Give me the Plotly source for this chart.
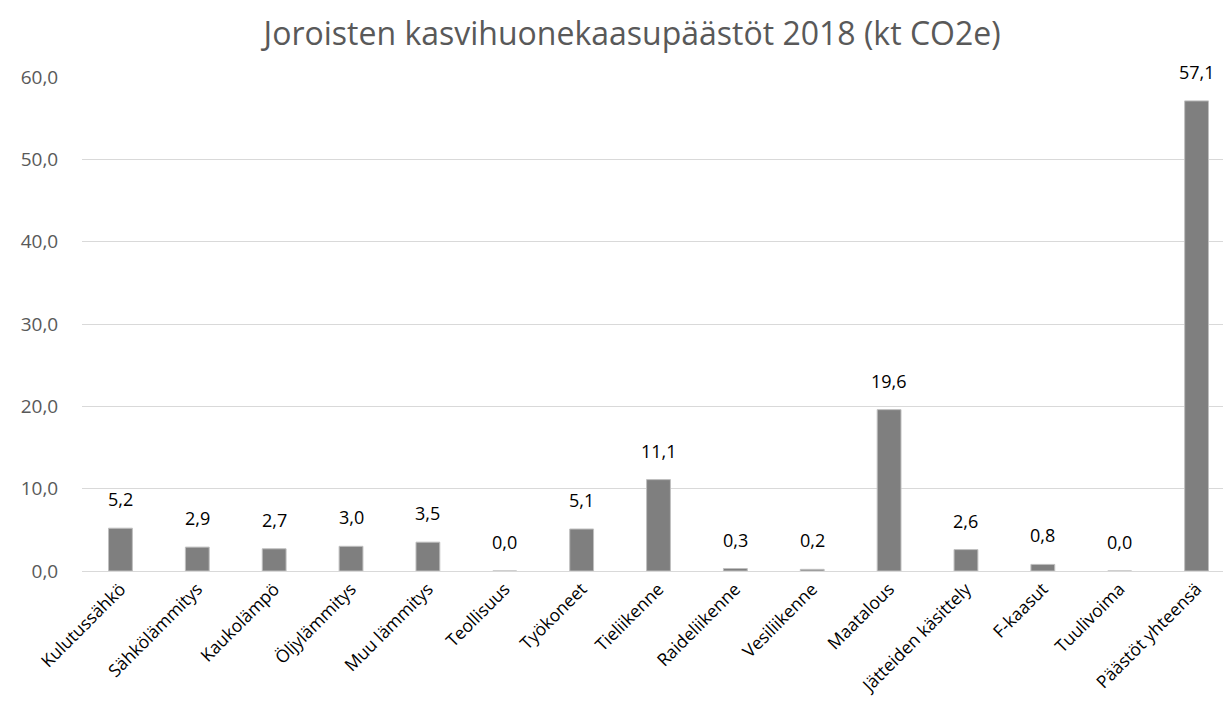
import plotly.graph_objects as go

# categories and values (kt CO2e)
categories = ['Kulutussähkö', 'Sähkölämmitys', 'Kaukolämpö', 'Öljylämmitys', 'Muu lämmitys',
              'Teollisuus', 'Työkoneet', 'Tieliikenne', 'Raideliikenne', 'Vesiliikenne',
              'Maatalous', 'Jätteiden käsittely', 'F-kaasut', 'Tuulivoima', 'Päästöt yhteensä']
values = [5.2, 2.9, 2.7, 3.0, 3.5, 0.0, 5.1, 11.1, 0.3, 0.2, 19.6, 2.6, 0.8, 0.0, 57.1]
y_ticks = [0, 10, 20, 30, 40, 50, 60]

fig = go.Figure()

fig.add_trace(
    go.Bar(x=categories,
           y=values,
           marker_color='#7f7f7f',
           marker_line_color='#bfbfbf',
           marker_line_width=1,
           showlegend=False))

# data labels above bars
for cat, val in zip(categories, values):
    fig.add_annotation(x=cat, y=val, text=f'{val:.1f}'.replace('.', ','),
                       showarrow=False, yanchor='bottom', yshift=15,
                       font=dict(size=18, color='#000000'))

# page body has an 8px margin, so margins are offset by that
fig.update_layout(
    title=dict(text='Joroisten kasvihuonekaasupäästöt 2018 (kt CO2e)',
               x=0.507, xanchor='center', y=0.965, yanchor='middle',
               font=dict(size=32, color='#595959')),
    font=dict(family='Open Sans, Noto Sans, sans-serif', color='#595959'),
    separators=', ',
    plot_bgcolor='white',
    paper_bgcolor='white',
    bargap=0.69,
    width=1231, height=725,
    margin=dict(l=74, r=4, t=69, b=162),
    xaxis=dict(tickangle=-45, tickfont=dict(size=17.5, color='#000000'),
               showline=True, linecolor='#d9d9d9', ticks='', automargin=False),
    yaxis=dict(range=[0, 60], tickvals=y_ticks, tickformat='.1f',
               tickfont=dict(size=19, color='#595959'),
               gridcolor='#d9d9d9', gridwidth=1, zeroline=False, automargin=False,
               ticks='outside', ticklen=19, tickcolor='white'),
)

fig.write_html("out.html")
